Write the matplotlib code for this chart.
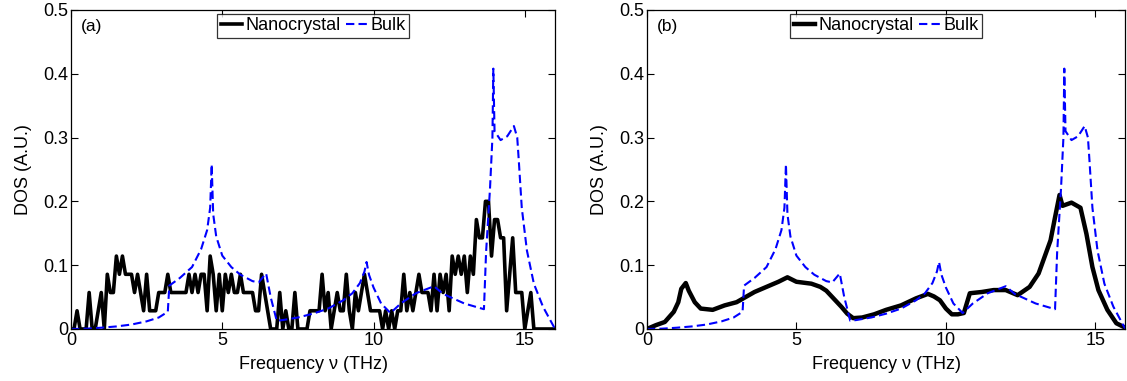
import numpy as np
import matplotlib
matplotlib.use("Agg")
import matplotlib.pyplot as plt

plt.rcParams['font.family'] = ['Liberation Sans', 'DejaVu Sans']

# --- dane: DOS objetosciowy (Bulk), wspolny dla obu paneli ---
bulk_f = [0, 0.5, 1.0, 1.5, 2.0, 2.5, 2.9, 3.2, 3.25, 3.6, 4.0, 4.3, 4.5, 4.6,
          4.65, 4.7, 4.8, 5.0, 5.3, 5.6, 6.0, 6.2, 6.45, 6.6, 6.8, 7.0, 7.5,
          8.0, 8.5, 9.0, 9.3, 9.55, 9.7, 9.77, 9.85, 10.0, 10.25, 10.56, 10.9,
          11.4, 12.0, 12.3, 13.0, 13.65, 13.72, 13.85, 13.93, 13.96, 14.0, 14.2,
          14.42, 14.64, 14.75, 14.8, 14.9, 15.07, 15.3, 15.6, 16.0]
bulk_dos = [0, 0.0005, 0.002, 0.004, 0.007, 0.012, 0.018, 0.027, 0.068, 0.080,
            0.097, 0.125, 0.155, 0.19, 0.258, 0.18, 0.145, 0.115, 0.097, 0.085,
            0.075, 0.073, 0.087, 0.05, 0.013, 0.014, 0.018, 0.024, 0.032, 0.045,
            0.056, 0.072, 0.09, 0.105, 0.085, 0.065, 0.04, 0.025, 0.040, 0.056,
            0.067, 0.055, 0.040, 0.031, 0.12, 0.22, 0.3, 0.408, 0.31, 0.296,
            0.302, 0.318, 0.30, 0.265, 0.19, 0.123, 0.071, 0.035, 0]

# --- panel (a): nanokrysztal, histogram co 0.1 THz, poziomy w jednostkach 1/35 ---
nano_a_f = np.round(np.arange(0, 16.01, 0.1), 2)
nano_a_counts = [
    0, 0, 1, 0, 0, 0, 2, 0, 0, 1,      # 0.0 - 0.9
    2, 0, 3, 2, 2, 4, 3, 4, 3, 3,      # 1.0 - 1.9
    3, 2, 3, 2, 1, 3, 1, 1, 1, 2,      # 2.0 - 2.9
    2, 2, 3, 2, 2, 2, 2, 2, 2, 3,      # 3.0 - 3.9
    2, 3, 2, 3, 3, 1, 4, 3, 1, 3,      # 4.0 - 4.9
    1, 3, 2, 3, 2, 2, 3, 2, 2, 2,      # 5.0 - 5.9
    2, 1, 1, 3, 2, 1, 0, 0, 0, 2,      # 6.0 - 6.9
    0, 1, 0, 0, 2, 0, 0, 0, 0, 1,      # 7.0 - 7.9
    1, 1, 1, 3, 1, 2, 0, 1, 2, 1,      # 8.0 - 8.9
    1, 3, 1, 0, 2, 1, 2, 3, 2, 1,      # 9.0 - 9.9
    1, 1, 1, 0, 1, 0, 1, 0, 1, 1,      # 10.0 - 10.9
    3, 1, 2, 1, 2, 3, 2, 2, 2, 1,      # 11.0 - 11.9
    3, 1, 3, 2, 3, 1, 4, 3, 4, 3,      # 12.0 - 12.9
    4, 2, 4, 3, 6, 5, 5, 7, 7, 4,      # 13.0 - 13.9
    6, 6, 5, 5, 1, 3, 5, 2, 2, 2,      # 14.0 - 14.9
    0, 1, 2, 0, 0, 0, 0, 0, 0, 0,      # 15.0 - 15.9
    0]                                 # 16.0
nano_a_dos = np.array(nano_a_counts) / 35.0

# --- panel (b): nanokrysztal, dluzsza symulacja ---
nano_b_f = [0, 0.3, 0.6, 0.9, 1.05, 1.15, 1.3, 1.4, 1.6, 1.8, 2.2, 2.6, 3.0, 3.3,
            3.6, 4.0, 4.4, 4.7, 5.0, 5.5, 5.8, 6.0, 6.3, 6.5, 6.7, 6.9, 7.2, 7.6,
            8.0, 8.5, 9.0, 9.4, 9.6, 9.8, 10.0, 10.2, 10.4, 10.6, 10.8, 11.2,
            11.6, 12.0, 12.4, 12.8, 13.1, 13.3, 13.5, 13.65, 13.8, 13.9, 14.2,
            14.5, 14.7, 14.9, 15.1, 15.4, 15.7, 16.0]
nano_b_dos = [0, 0.006, 0.011, 0.027, 0.042, 0.063, 0.072, 0.06, 0.042, 0.032,
              0.03, 0.037, 0.042, 0.05, 0.058, 0.066, 0.074, 0.081, 0.074, 0.071,
              0.066, 0.06, 0.045, 0.035, 0.024, 0.017, 0.018, 0.023, 0.03, 0.037,
              0.048, 0.055, 0.051, 0.045, 0.032, 0.023, 0.023, 0.025, 0.056,
              0.058, 0.061, 0.061, 0.053, 0.066, 0.087, 0.113, 0.139, 0.175,
              0.21, 0.193, 0.198, 0.19, 0.149, 0.097, 0.061, 0.03, 0.009, 0.002]

panel_labels = ["(a)", "(b)"]
x_ticks = [0, 5, 10, 15]
y_ticks = [0, 0.1, 0.2, 0.3, 0.4, 0.5]
y_tick_labels = ["0", "0.1", "0.2", "0.3", "0.4", "0.5"]

fig = plt.figure(figsize=(11.27, 3.81), dpi=100)
ax_a = fig.add_axes([0.063, 0.1365, 0.4295, 0.8375])
ax_b = fig.add_axes([0.574, 0.1365, 0.4245, 0.8375])

nano_series = [(nano_a_f, nano_a_dos, 2.6), (nano_b_f, nano_b_dos, 3.2)]

for ax, lab, (nf, nd, lw) in zip([ax_a, ax_b], panel_labels, nano_series):
    ax.plot(nf, nd, '-', color='black', lw=lw, label="Nanocrystal")
    ax.plot(bulk_f, bulk_dos, '--', color='#0000ff', lw=1.5, dashes=(4, 2),
            label="Bulk")
    ax.set_xlim(0, 16)
    ax.set_ylim(0, 0.5)
    ax.set_xticks(x_ticks)
    ax.set_yticks(y_ticks)
    ax.set_yticklabels(y_tick_labels)
    ax.tick_params(direction='in', top=True, right=True, length=5,
                   labelsize=13, pad=2)
    for sp in ax.spines.values():
        sp.set_linewidth(0.9)
    ax.set_xlabel("Frequency \u03bd (THz)", fontsize=13, labelpad=5)
    ax.set_ylabel("DOS (A.U.)", fontsize=13, labelpad=8)
    ax.text(0.02, 0.97, lab, transform=ax.transAxes, fontsize=12.5,
            ha='left', va='top')
    leg = ax.legend(loc='upper center', ncol=2, fontsize=13, frameon=True,
                    fancybox=False, edgecolor='black', handlelength=1.2,
                    handletextpad=0.15, columnspacing=0.3, borderpad=0.2,
                    borderaxespad=0.2, bbox_to_anchor=(0.5, 1.0))
    leg.get_frame().set_linewidth(0.9)

plt.savefig("out.png", dpi=100)
